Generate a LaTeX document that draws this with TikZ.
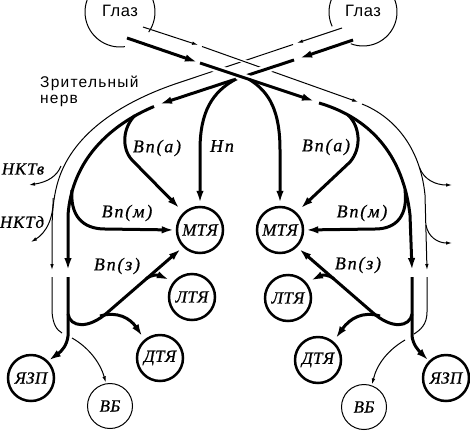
\documentclass[tikz,border=0pt]{standalone}
\usepackage{fontspec}
\setmainfont{Liberation Serif}
\newfontfamily\sansf[LetterSpace=8]{Liberation Sans}
\newfontfamily\eyef[LetterSpace=3]{Liberation Sans}
\newfontfamily\labf[LetterSpace=10,FakeBold=0.7]{Liberation Serif}
\newfontfamily\nodef[LetterSpace=2,FakeBold=0.7]{Liberation Serif}
\newfontfamily\nktf[LetterSpace=5,FakeBold=0.7]{Liberation Serif}
\usetikzlibrary{arrows.meta}
\begin{document}
\begin{tikzpicture}[x=1pt,y=-1pt,
  thk/.style={line width=3pt},
  thn/.style={line width=1pt},
  ta/.style={-{Latex[length=12pt,width=7.5pt]}},
  na/.style={-{Latex[length=6pt,width=3.6pt]}},
  halo/.style={draw=white,line width=#1},
  big/.style={circle,draw,line width=2.5pt,minimum size=46pt,inner sep=0pt,font=\nodef\itshape\fontsize{17}{17}\selectfont},
  sml/.style={circle,draw,line width=1pt,minimum size=45pt,inner sep=0pt,font=\nodef\itshape\fontsize{17}{17}\selectfont},
  lab/.style={inner sep=0pt,font=\labf\itshape\fontsize{18}{18}\selectfont},
  lab2/.style={inner sep=0pt,font=\nktf\itshape\fontsize{17}{17}\selectfont},
  sl/.style={inner sep=0pt,font=\sansf\fontsize{15.5}{15.5}\selectfont},
  eyet/.style={inner sep=0pt,font=\eyef\fontsize{16.5}{16.5}\selectfont},
]
\useasboundingbox (0,0) rectangle (470,431);
\clip (0,0) rectangle (470,431);

% nodes
\node[big] (mtjL) at (200,230) {МТЯ};
\node[big] (mtjR) at (280,230) {МТЯ};
\node[big] (ltjL) at (192,297) {ЛТЯ};
\node[big] (ltjR) at (288,298) {ЛТЯ};
\node[big] (dtjL) at (160,358) {ДТЯ};
\node[big] (dtjR) at (318,360) {ДТЯ};
\node[big] (yzpL) at (31,378) {ЯЗП};
\node[big] (yzpR) at (446,378) {ЯЗП};
\node[sml] (vbL) at (110,406) {ВБ};
\node[sml] (vbR) at (364,407) {ВБ};

% eyes
\coordinate (eyeLc) at (120,12);
\coordinate (eyeRc) at (363,12);
\node[eyet] (eyeL) at (120,10.5) {Глаз};
\node[eyet] (eyeR) at (363,10.5) {Глаз};
\draw[thn] ([shift={(82:35)}]eyeLc) arc[start angle=82,end angle=395,radius=35];
\draw[thn] ([shift={(155:34)}]eyeRc) arc[start angle=155,end angle=471,radius=34];

% labels
\node[sl,anchor=base west] (zn1) at (40,87) {Зрительный};
\node[sl,anchor=base west] (zn2) at (40,103) {нерв};
\node[lab] (lva) at (157,148) {Вп(а)};
\node[lab] (lnp) at (222,146) {Нп};
\node[lab] (rva) at (326,147) {Вп(а)};
\node[lab] (lvm) at (127,213) {Вп(м)};
\node[lab] (rvm) at (362,213) {Вп(м)};
\node[lab] (lvz) at (117,266) {Вп(з)};
\node[lab] (rvz) at (358,265) {Вп(з)};
\node[lab2] (nkv) at (23,169) {НКТв};
\node[lab2] (nkd) at (22,222) {НКТд};

% coordinates
\coordinate (lta0) at (143,27); \coordinate (lta1) at (198,45);
\coordinate (ltb0) at (202,46.5); \coordinate (ltb1) at (358,102);
\coordinate (ltc0) at (362,104); \coordinate (ltc1) at (427,270);
\coordinate (ltd0) at (427,277); \coordinate (ltd1) at (414,334);
\coordinate (vbr0) at (405,340);
\coordinate (nkvR0) at (419.4,167.4); \coordinate (nkvR1) at (452,185);
\coordinate (nkdR0) at (426,225); \coordinate (nkdR1) at (452,243);
\coordinate (rta0) at (342,28); \coordinate (rta1) at (297,43);
\coordinate (rtb0) at (293,44.5); \coordinate (rtb1) at (52,270);
\coordinate (rtc0) at (52,277); \coordinate (rtc1) at (62,333);
\coordinate (vbl0) at (72,338);
\coordinate (nkvL0) at (61,166); \coordinate (nkvL1) at (29,185);
\coordinate (nkdL0) at (53,198); \coordinate (nkdL1) at (31,242);
\coordinate (lka0) at (127,38); \coordinate (lka1) at (197,62);
\coordinate (lkb0) at (200,63); \coordinate (lkb1) at (314,101);
\coordinate (lkc0) at (319,103); \coordinate (lkc1) at (412,270);
\coordinate (lkd0) at (412,277);
\coordinate (rka0) at (353,40); \coordinate (rka1) at (300,58);
\coordinate (rkb0) at (294,60); \coordinate (rkb1) at (160,104);
\coordinate (rkc0) at (154,106.5); \coordinate (rkc1) at (68,270);
\coordinate (rkd0) at (68,277);
\coordinate (vaL0) at (135,115.5); \coordinate (vaR0) at (348,115);
\coordinate (npL0) at (236,79); \coordinate (npR0) at (249,79.3);
\coordinate (vmL0) at (72,190); \coordinate (vmR0) at (405,190);
\coordinate (vzL0) at (68,314); \coordinate (vzR0) at (412,314);
\coordinate (ltL0) at (146,279); \coordinate (ltR0) at (334,279);
\coordinate (dtL0) at (100,316); \coordinate (dtR0) at (380,316);

% thin lines
\draw[thn,na] (lta0) -- (lta1);
\draw[thn,na] (rta0) -- (rta1);
\draw[thn,na] (rtb0) -- (175,84) .. controls (120,103) and (70,135) .. (57,185)
   .. controls (53,200) and (52,215) .. (52,235) -- (rtb1);
\draw[thn] (rtc0) -- (52,312) .. controls (53,325) and (57,330) .. (rtc1);
\draw[thn,na] (nkvL0) .. controls (57,176) and (48,182) .. (nkvL1);
\draw[thn,na] (nkdL0) .. controls (54,218) and (46,233) .. (nkdL1);
\draw[thn,na,shorten >=1pt] (vbl0) .. controls (88,347) and (100,362) .. (vbL.100);
\draw[halo=4pt] (ltb0) -- (ltb1);
\draw[thn,na] (ltb0) -- (ltb1);
\draw[thn,na] (ltc0) .. controls (392,116) and (420,145) .. (425,195) -- (ltc1);
\draw[thn] (ltd0) -- (427,312) .. controls (427,325) and (420,330) .. (ltd1);
\draw[thn,na] (nkvR0) .. controls (424,180) and (436,185) .. (nkvR1);
\draw[thn,na] (nkdR0) .. controls (428,237) and (438,243) .. (nkdR1);
\draw[thn,na,shorten >=1pt] (vbr0) .. controls (388,350) and (377,364) .. (vbR.70);

% thick lines
\draw[thk,ta] (lka0) -- (lka1);
\draw[thk,ta] (rka0) -- (rka1);
\draw[halo=8pt] (rkb0) -- (rkb1);
\draw[thk,ta] (rkb0) -- (rkb1);
\draw[halo=8pt] (lkb0) -- (lkb1);
\draw[thk,ta] (lkb0) -- (lkb1);
\draw[thk,ta] (rkc0) .. controls (110,125) and (72,160) .. (68,215) -- (rkc1);
\draw[thk,ta] (lkc0) .. controls (360,115) and (402,145) .. (410,215) -- (lkc1);
\draw[thk,ta,shorten >=1pt] (rkd0) -- (68,336) .. controls (67,345) and (62,351) .. (yzpL.45);
\draw[thk,ta,shorten >=1pt] (lkd0) -- (412,336) .. controls (413,345) and (419,351) .. (yzpR.135);

% branches
\draw[thk,ta,shorten >=6pt] (vaL0) .. controls (123,127) and (121,148) .. (132,160) -- (mtjL.133);
\draw[thk,ta,shorten >=6pt] (vaR0) .. controls (360,126) and (362,148) .. (350,162) -- (mtjR.47);
\draw[thk,ta,shorten >=3pt] (npL0) .. controls (212,92) and (200,112) .. (200,150) -- (mtjL.north);
\draw[thk,ta,shorten >=3pt] (npR0) .. controls (270,92) and (280,112) .. (280,150) -- (mtjR.north);
\draw[thk,ta,shorten >=2pt] (vmL0) .. controls (70,215) and (82,229) .. (105,229) -- (mtjL.west);
\draw[thk,ta,shorten >=2pt] (vmR0) .. controls (408,215) and (397,229) .. (375,229) -- (mtjR.east);
\draw[thk,ta,shorten >=3pt] (vzL0) .. controls (70,327) and (88,330) .. (108,312) -- (mtjL.225);
\draw[thk,ta,shorten >=3pt] (vzR0) .. controls (410,327) and (392,330) .. (372,312) -- (mtjR.-45);
\draw[thk,ta,shorten >=5pt] (ltL0) .. controls (152,274) and (158,275) .. (ltjL.140);
\draw[thk,ta,shorten >=5pt] (ltR0) .. controls (328,274) and (322,275) .. (ltjR.40);
\draw[thk,ta,shorten >=4pt] (dtL0) .. controls (117,311) and (130,318) .. (dtjL.130);
\draw[thk,ta,shorten >=4pt] (dtR0) .. controls (363,311) and (350,318) .. (dtjR.50);
\end{tikzpicture}
\end{document}
